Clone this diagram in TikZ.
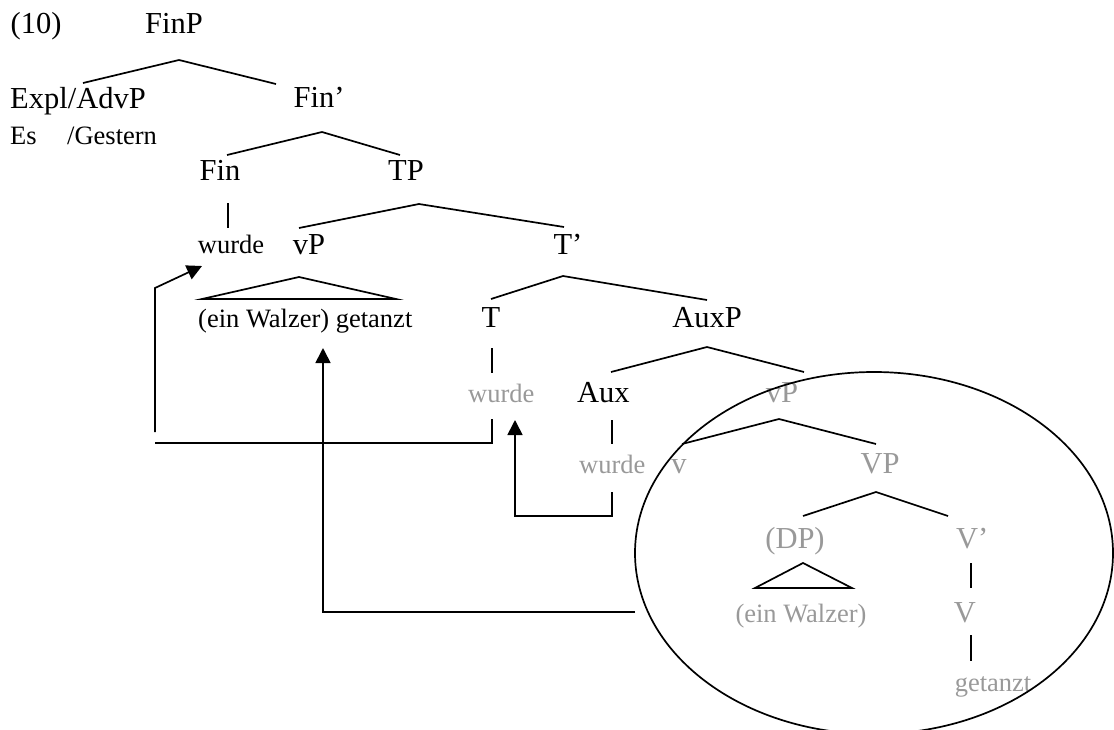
\documentclass[tikz,border=0pt]{standalone}
\usepackage{fontspec}
\setmainfont{Liberation Serif}
\usetikzlibrary{arrows.meta,shapes.geometric}
\definecolor{tracegray}{gray}{0.6}
\tikzset{
  big/.style={font=\fontsize{30.5}{34}\selectfont, inner sep=0pt, anchor=base},
  small/.style={font=\fontsize{26.5}{30}\selectfont, inner sep=0pt, anchor=base},
  ghost/.style={text=tracegray},
  branch/.style={line width=1.7pt},
  mv/.style={line width=1.7pt, -{Triangle[width=15pt,length=15pt]}},
}
\begin{document}
\begin{tikzpicture}[x=1pt,y=-1pt]
\useasboundingbox (0,0) rectangle (1114,729);

% labels
\node[big] (ex) at (36,33) {(10)};
\node[big] (finp) at (174,33) {FinP};
\node[big] (expl) at (78,108) {Expl/AdvP};
\node[big] (finbar) at (319,107) {Fin’};
\node[small, anchor=base west] (es) at (10,144) {Es};
\node[small, anchor=base west] (gestern) at (67,144) {/Gestern};
\node[big] (fin) at (220,180) {Fin};
\node[big] (tp) at (406,180) {TP};
\node[small] (wurde1) at (231,253) {wurde};
\node[big] (vp1) at (309,254) {vP};
\node[big] (tbar) at (568,254) {T’};
\node[small, anchor=base west] (vpcont) at (198,327) {(ein Walzer) getanzt};
\node[big] (t) at (491,327) {T};
\node[big] (auxp) at (707,327) {AuxP};
\node[small, ghost, anchor=base west] (wurde2) at (468,402) {wurde};
\node[big, anchor=base west] (aux) at (577,402) {Aux};
\node[big, ghost] (vp2) at (782,402) {vP};
\node[small, ghost, anchor=base west] (wurde3) at (579,473) {wurde};
\node[big, ghost] (v) at (679,473) {v};
\node[big, ghost] (vpp) at (880,473) {VP};
\node[big, ghost] (dp) at (795,548) {(DP)};
\node[big, ghost, anchor=base west] (vbar) at (956,548) {V’};
\node[small, ghost] (einw) at (801,622) {(ein Walzer)};
\node[big, ghost] (vv) at (965,622) {V};
\node[small, ghost] (getanzt) at (993,691) {getanzt};

% branch coordinates
\coordinate (finpL) at (83,83);   \coordinate (finpA) at (179,60);  \coordinate (finpR) at (276,84);
\coordinate (finbL) at (227,155); \coordinate (finbA) at (322,132); \coordinate (finbR) at (400,155);
\coordinate (finT) at (228,203);  \coordinate (finB) at (228,228);
\coordinate (tpL) at (299,228);   \coordinate (tpA) at (419,204);   \coordinate (tpR) at (564,227);
\coordinate (triA) at (299,277);  \coordinate (triL) at (202,299);  \coordinate (triR) at (396,299);
\coordinate (tbL) at (491,299);   \coordinate (tbA) at (563,276);   \coordinate (tbR) at (707,300);
\coordinate (tT) at (492,348);    \coordinate (tB) at (492,373);
\coordinate (auxpL) at (611,372); \coordinate (auxpA) at (707,347); \coordinate (auxpR) at (804,372);
\coordinate (auxT) at (612,420);  \coordinate (auxB) at (612,444);
\coordinate (vpL) at (682,444);   \coordinate (vpA) at (779,419);   \coordinate (vpR) at (876,444);
\coordinate (VPL) at (803,516);   \coordinate (VPA) at (876,492);   \coordinate (VPR) at (948,516);
\coordinate (dpA) at (803,563);   \coordinate (dpL) at (755,588);   \coordinate (dpR) at (852,588);
\coordinate (vbT) at (971,563);   \coordinate (vbB) at (971,588);
\coordinate (vT) at (971,635);    \coordinate (vB) at (971,661);

\draw[branch] (finpL) -- (finpA) -- (finpR);
\draw[branch] (finbL) -- (finbA) -- (finbR);
\draw[branch] (finT) -- (finB);
\draw[branch] (tpL) -- (tpA) -- (tpR);
\draw[branch] (triA) -- (triL) -- (triR) -- cycle;
\draw[branch] (tbL) -- (tbA) -- (tbR);
\draw[branch] (tT) -- (tB);
\draw[branch] (auxpL) -- (auxpA) -- (auxpR);
\draw[branch] (auxT) -- (auxB);
\draw[branch] (vpL) -- (vpA) -- (vpR);
\draw[branch] (VPL) -- (VPA) -- (VPR);
\draw[branch] (dpA) -- (dpL) -- (dpR) -- cycle;
\draw[branch] (vbT) -- (vbB);
\draw[branch] (vT) -- (vB);

% ellipse
\node[draw, line width=1.7pt, ellipse, minimum width=478pt, minimum height=362pt, inner sep=0pt] (circ) at (874,553) {};

% movement arrows
\coordinate (m1a) at (492,419); \coordinate (m1b) at (492,443); \coordinate (m1c) at (155,443);
\coordinate (m1d) at (155,432); \coordinate (m1e) at (155,288); \coordinate (m1f) at (202,266);
\draw[branch] (m1a) -- (m1b) -- (m1c);
\draw[mv] (m1d) -- (m1e) -- (m1f);

\coordinate (m2a) at (612,492); \coordinate (m2b) at (612,516); \coordinate (m2c) at (515,516); \coordinate (m2d) at (515,420);
\draw[mv] (m2a) -- (m2b) -- (m2c) -- (m2d);

\coordinate (m3a) at (635,612); \coordinate (m3b) at (323,612); \coordinate (m3c) at (323,348);
\draw[mv] (m3a) -- (m3b) -- (m3c);
\end{tikzpicture}
\end{document}
